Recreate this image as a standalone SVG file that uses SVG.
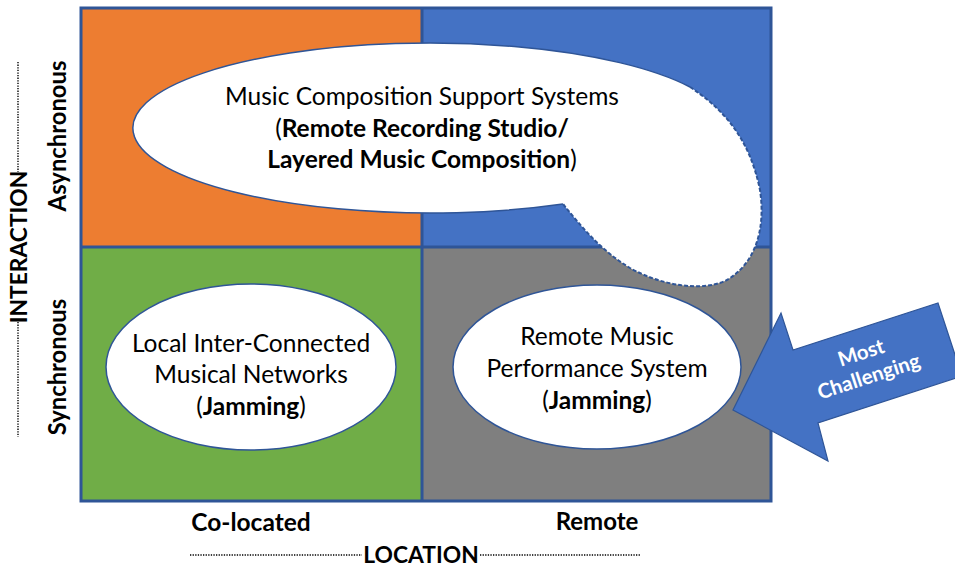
<svg xmlns="http://www.w3.org/2000/svg" width="955" height="567" viewBox="0 0 955 567">
<style>
text{font-family:Lato,"Open Sans","Liberation Sans",sans-serif;fill:#000}
.t{font-size:24.5px;text-anchor:middle}
.b{font-weight:bold}
.ax{font-weight:bold;text-anchor:middle}
.dot{stroke:#000;stroke-width:1.4;stroke-dasharray:1.3 1.3;fill:none}
.ell{fill:#fff;stroke:#2F5597;stroke-width:1.5}
</style>
<rect width="955" height="567" fill="#fff"/>
<g id="quadrants">
<rect x="81" y="8" width="341" height="239" fill="#ED7D31"/>
<rect x="422" y="8" width="349" height="239" fill="#4472C4"/>
<rect x="81" y="247" width="341" height="254" fill="#70AD47"/>
<rect x="422" y="247" width="349" height="254" fill="#7F7F7F"/>
<g fill="none" stroke="#2F5597" stroke-width="3">
<rect x="81" y="8" width="690" height="493"/>
<line x1="422" y1="8" x2="422" y2="501"/>
<line x1="81" y1="247" x2="771" y2="247"/>
</g>
</g>
<g id="composition">
<path d="M563 204 A297 85 0 1 1 690 87 C725 110 750 140 760 190 C766 230 755 265 725 281 C700 292 660 285 630 268 C600 250 580 225 563 204 Z" fill="#fff"/>
<path d="M563 204 A297 85 0 1 1 690 87" fill="none" stroke="#2F5597" stroke-width="1.5"/>
<path d="M690 87 C725 110 750 140 760 190 C766 230 755 265 725 281 C700 292 660 285 630 268 C600 250 580 225 563 204" fill="none" stroke="#2F5597" stroke-width="2" stroke-dasharray="4 2"/>
<text class="t" x="422" y="105">Music Composition Support Systems</text>
<text class="t" x="422" y="137">(<tspan class="b">Remote Recording Studio/</tspan></text>
<text class="t" x="422" y="168"><tspan class="b">Layered Music Composition</tspan>)</text>
</g>
<g id="local">
<ellipse class="ell" cx="251" cy="367" rx="145" ry="83"/>
<text class="t" x="251" y="352">Local Inter-Connected</text>
<text class="t" x="251" y="383">Musical Networks</text>
<text class="t" x="251" y="415">(<tspan class="b">Jamming</tspan>)</text>
</g>
<g id="remote">
<ellipse class="ell" cx="597" cy="367" rx="144" ry="82"/>
<text class="t" x="597" y="345">Remote Music</text>
<text class="t" x="597" y="377">Performance System</text>
<text class="t" x="597" y="409">(<tspan class="b">Jamming</tspan>)</text>
</g>
<g id="challenge">
<polygon points="733,410 781,313 793,350 938,303 962,376 818,423 828,461" fill="#4472C4" stroke="#2F5597" stroke-width="1.2"/>
<g transform="translate(866,368) rotate(-18)" font-size="20.5" font-weight="bold" text-anchor="middle">
<text x="0" y="-9" style="fill:#fff">Most</text>
<text x="0" y="16" style="fill:#fff">Challenging</text>
</g>
</g>
<g id="axes">
<text class="ax" font-size="24.5" x="251" y="531">Co-located</text>
<text class="ax" font-size="24" x="597" y="530">Remote</text>
<text class="ax" font-size="22.8" x="421" y="563">LOCATION</text>
<text class="ax" font-size="23.8" transform="translate(66,136) rotate(-90)">Asynchronous</text>
<text class="ax" font-size="23.8" transform="translate(66,367) rotate(-90)">Synchronous</text>
<text class="ax" font-size="22.8" transform="translate(27,247) rotate(-90)">INTERACTION</text>
</g>
<g id="connectors">
<line class="dot" x1="190" y1="555" x2="362" y2="555"/>
<line class="dot" x1="480" y1="555" x2="641" y2="555"/>
<line class="dot" x1="18" y1="62" x2="18" y2="172"/>
<line class="dot" x1="18" y1="322" x2="18" y2="437"/>
</g>
</svg>
